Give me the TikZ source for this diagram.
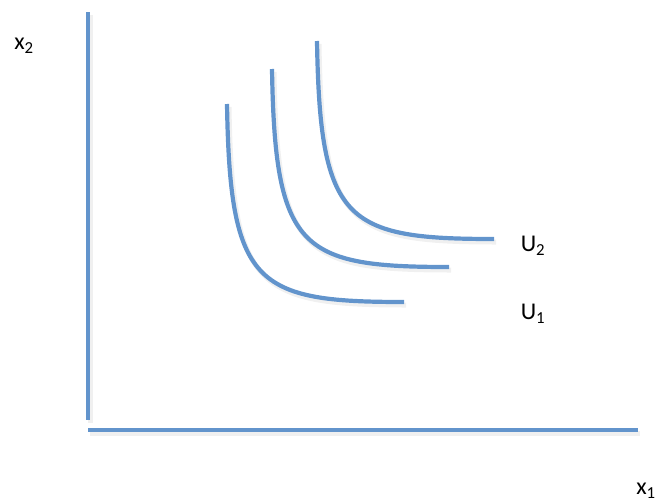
\documentclass[tikz,border=0pt]{standalone}
\usepackage{fontspec}
\setmainfont{Carlito}
\usetikzlibrary{calc}
\definecolor{curveblue}{RGB}{98,148,204}
\tikzset{
	axis/.style={draw=curveblue,line width=4.5pt},
	indiff/.style={draw=curveblue,line width=4.2pt},
	shade/.style={draw=black,opacity=0.06,line width=5pt},
	lbl/.style={inner sep=0pt,font=\fontsize{24}{28}\selectfont}
}
\begin{document}
\begin{tikzpicture}[x=1pt,y=-1pt]
\useasboundingbox (0,0) rectangle (656,501);
\coordinate (top) at (88,12);
\coordinate (orig) at (88,420);
\coordinate (left) at (88,430);
\coordinate (right) at (638,430);
% shadows
\draw[shade] ($(top)+(2,3)$)--($(orig)+(2,3)$);
\draw[shade] ($(left)+(2,3)$)--($(right)+(2,3)$);
\foreach \dx/\dy in {0/0,45/35,90/63}{
\draw[shade] (229+\dx,107-\dy) .. controls (232+\dx,288-\dy) and (257+\dx,305-\dy) .. (406+\dx,305-\dy);
}
% axes
\draw[axis] (top)--(orig);
\draw[axis] (left)--(right);
% curves
\foreach \dx/\dy in {0/0,45/35,90/63}{
\draw[indiff] (227+\dx,104-\dy) .. controls (230+\dx,285-\dy) and (255+\dx,302-\dy) .. (404+\dx,302-\dy);
}
\node[lbl] (xtwo) at (24,46) {x\textsubscript{2}};
\node[lbl] (utwo) at (533,246) {U\textsubscript{2}};
\node[lbl] (uone) at (533,314) {U\textsubscript{1}};
\node[lbl] (xone) at (646,491) {x\textsubscript{1}};
\end{tikzpicture}
\end{document}
